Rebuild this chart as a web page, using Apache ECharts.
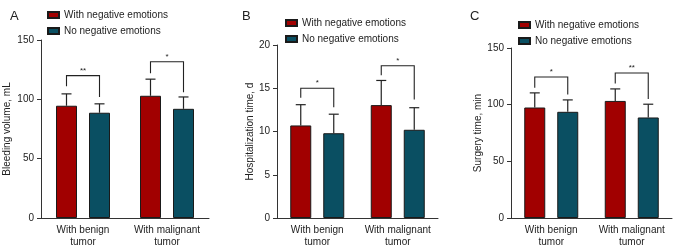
<!DOCTYPE html>
<html>
<head>
<meta charset="utf-8">
<script src="https://cdn.jsdelivr.net/npm/echarts@6/dist/echarts.min.js"></script>
<style>
  html, body { margin: 0; padding: 0; background: #fff; }
  #chart { width: 675px; height: 250px; }
</style>
</head>
<body>
<div id="chart"></div>
<script>
// categories + legend names
var categories = ['With benign\ntumor', 'With malignant\ntumor'];
var seriesNames = ['With negative emotions', 'No negative emotions'];

// A - bleeding volume (mL)
var bleedNeg = [94.6, 103];
var bleedNegSD = [10, 14];
var bleedNo = [88.7, 92];
var bleedNoSD = [7.5, 10];
// bracket: [top, left arm end, right arm end]
var bleedBrackets = [[120, 111, 102], [131.7, 122, 106]];
var bleedStars = ['**', '*'];

// B - hospitalization time (d)
var hospNeg = [10.7, 13.05];
var hospNegSD = [2.4, 2.85];
var hospNo = [9.8, 10.2];
var hospNoSD = [2.2, 2.55];
var hospBrackets = [[15.0, 13.9, 12.8], [17.6, 16.5, 13.7]];
var hospStars = ['*', '*'];

// C - surgery time (min)
var surgNeg = [97.5, 103.3];
var surgNegSD = [12.9, 10.6];
var surgNo = [93.7, 88.7];
var surgNoSD = [10.5, 11.7];
var surgBrackets = [[124.4, 115, 109], [128, 118.6, 105]];
var surgStars = ['*', '**'];

var yTicksMax = [150, 20, 150];
var yTicksStep = [50, 5, 50];

var RED = '#a10000';
var TEAL = '#0a4f62';
var INK = '#222';
var FONT = 'Liberation Sans, Arial, sans-serif';
var BAR_W = 21, BAR_GAP = 12;
var OFF = (BAR_W + BAR_GAP) / 2;

var panels = [
  { letter: 'A', yName: 'Bleeding volume, mL', neg: bleedNeg, negSD: bleedNegSD, no: bleedNo, noSD: bleedNoSD,
    brackets: bleedBrackets, stars: bleedStars,
    grid: { left: 41, width: 168, top: 40, height: 178 }, nameGap: 29, title: 5, legend: [47, 10] },
  { letter: 'B', yName: 'Hospitalization time, d', neg: hospNeg, negSD: hospNegSD, no: hospNo, noSD: hospNoSD,
    brackets: hospBrackets, stars: hospStars,
    grid: { left: 277, width: 161, top: 45, height: 173 }, nameGap: 22, title: 237, legend: [285, 18] },
  { letter: 'C', yName: 'Surgery time, min', neg: surgNeg, negSD: surgNegSD, no: surgNo, noSD: surgNoSD,
    brackets: surgBrackets, stars: surgStars,
    grid: { left: 511, width: 161, top: 48, height: 170 }, nameGap: 28, title: 465, legend: [518, 20] }
];

function errorBar(side) {
  return function (params, api) {
    var c = api.value(0), m = api.value(1), s = api.value(2);
    var p0 = api.coord([c, m]);
    var p1 = api.coord([c, m + s]);
    var x = p0[0] + side * OFF;
    var st = { stroke: INK, lineWidth: 1.2 };
    return { type: 'group', children: [
      { type: 'line', shape: { x1: x, y1: p0[1], x2: x, y2: p1[1] }, style: st },
      { type: 'line', shape: { x1: x - 5, y1: p1[1], x2: x + 5, y2: p1[1] }, style: st }
    ] };
  };
}

function bracketItem(stars) {
  return function (params, api) {
    var c = api.value(0);
    var top = api.coord([c, api.value(1)]);
    var yl = api.coord([c, api.value(2)])[1];
    var yr = api.coord([c, api.value(3)])[1];
    var xl = top[0] - OFF, xr = top[0] + OFF;
    return { type: 'group', children: [
      { type: 'polyline', shape: { points: [[xl, yl], [xl, top[1]], [xr, top[1]], [xr, yr]] },
        style: { stroke: INK, lineWidth: 1.1, fill: null } },
      { type: 'text', x: (xl + xr) / 2, y: top[1] - 1,
        style: { text: stars[params.dataIndex], align: 'center', verticalAlign: 'bottom',
                 fontSize: 8, fontFamily: FONT, fill: INK } }
    ] };
  };
}

var option = {
  animation: false,
  title: [], legend: [], grid: [], xAxis: [], yAxis: [], series: []
};

panels.forEach(function (p, i) {
  option.title.push({ text: p.letter, left: p.title, top: 5,
    textStyle: { fontSize: 13, fontWeight: 'normal', color: INK, fontFamily: FONT } });
  option.legend.push({ data: seriesNames, orient: 'vertical', left: p.legend[0], top: p.legend[1],
    itemWidth: 11, itemHeight: 6, itemGap: 6, icon: 'rect', padding: 0,
    textStyle: { fontSize: 10, color: INK, fontFamily: FONT } });
  option.grid.push(p.grid);
  option.xAxis.push({ type: 'category', gridIndex: i, data: categories,
    axisLine: { lineStyle: { color: '#333', width: 1 } },
    axisTick: { alignWithLabel: true, length: 3, lineStyle: { color: '#333' } },
    axisLabel: { interval: 0, fontSize: 10, color: INK, fontFamily: FONT, lineHeight: 12, margin: 6 } });
  option.yAxis.push({ type: 'value', gridIndex: i, min: 0, max: yTicksMax[i], interval: yTicksStep[i],
    name: p.yName, nameLocation: 'middle', nameGap: p.nameGap, nameRotate: 90,
    nameTextStyle: { fontSize: 10, color: INK, fontFamily: FONT },
    axisLine: { show: true, lineStyle: { color: '#333', width: 1 } },
    axisTick: { show: true, length: 4, lineStyle: { color: '#333' } },
    axisLabel: { fontSize: 10, color: INK, fontFamily: FONT, margin: 7 },
    splitLine: { show: false } });

  option.series.push({ name: seriesNames[0], type: 'bar', xAxisIndex: i, yAxisIndex: i,
    data: p.neg, barWidth: BAR_W, barGap: (BAR_GAP / BAR_W * 100) + '%',
    itemStyle: { color: RED, borderColor: '#1a1a1a', borderWidth: 1 } });
  option.series.push({ name: seriesNames[1], type: 'bar', xAxisIndex: i, yAxisIndex: i,
    data: p.no, barWidth: BAR_W,
    itemStyle: { color: TEAL, borderColor: '#1a1a1a', borderWidth: 1 } });

  option.series.push({ name: 'sd-neg', type: 'custom', xAxisIndex: i, yAxisIndex: i, z: 5,
    renderItem: errorBar(-1), data: p.neg.map(function (v, k) { return [k, v, p.negSD[k]]; }) });
  option.series.push({ name: 'sd-no', type: 'custom', xAxisIndex: i, yAxisIndex: i, z: 5,
    renderItem: errorBar(1), data: p.no.map(function (v, k) { return [k, v, p.noSD[k]]; }) });
  option.series.push({ name: 'sig', type: 'custom', xAxisIndex: i, yAxisIndex: i, z: 5,
    renderItem: bracketItem(p.stars),
    data: p.brackets.map(function (b, k) { return [k, b[0], b[1], b[2]]; }) });
});

var chart = echarts.init(document.getElementById('chart'), null, { renderer: 'canvas' });
chart.setOption(option);
</script>
</body>
</html>
